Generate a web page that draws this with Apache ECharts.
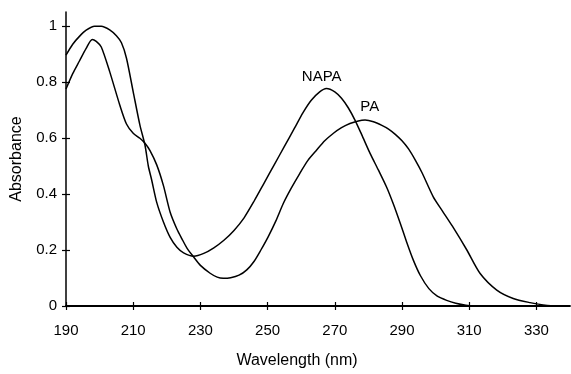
<!DOCTYPE html>
<html>
<head>
<meta charset="utf-8">
<script src="https://cdn.jsdelivr.net/npm/echarts@6/dist/echarts.min.js"></script>
<style>
html,body{margin:0;padding:0;background:#fff;}
#chart{width:571px;height:374px;}
</style>
</head>
<body>
<div id="chart"></div>
<script>
// Tick labels
var xTicks = [190, 210, 230, 250, 270, 290, 310, 330];
var yTicks = [0, 0.2, 0.4, 0.6, 0.8, 1];

// NAPA spectrum
var napaWavelength = [190, 192, 194, 196, 198.5, 200.5, 203, 205, 206.5, 208, 210, 212, 213.5, 214.5, 215.5, 217, 219, 221, 223, 225, 228, 231, 234, 237, 240, 243, 246, 249, 252, 255, 258, 260.5, 263, 265.5, 267.5, 270, 272, 274, 276, 278, 280.5, 283, 285.4, 287.4, 289.4, 291.4, 293.4, 295.5, 298, 300.5, 303.3, 306, 309, 312, 340];
var napaAbsorbance = [0.896, 0.935, 0.963, 0.985, 0.999, 0.999, 0.986, 0.965, 0.94, 0.885, 0.765, 0.646, 0.575, 0.50, 0.45, 0.37, 0.30, 0.245, 0.21, 0.19, 0.178, 0.188, 0.208, 0.235, 0.27, 0.315, 0.375, 0.44, 0.505, 0.57, 0.635, 0.69, 0.735, 0.765, 0.777, 0.765, 0.742, 0.708, 0.664, 0.612, 0.545, 0.485, 0.425, 0.365, 0.298, 0.228, 0.163, 0.108, 0.062, 0.035, 0.02, 0.01, 0.003, 0, 0];

// PA spectrum
var paWavelength = [190, 192, 194, 196, 197.8, 199, 200.5, 203, 206, 208, 210, 212, 213.5, 215, 217, 219, 221, 223, 224.5, 226, 228, 230, 232.9, 235, 236.8, 239, 241.5, 243.8, 246, 248, 250.2, 252.5, 254.7, 257, 259.6, 262, 264.6, 267, 269.6, 272, 274.5, 277, 279, 281.5, 284, 286, 288, 290, 292, 294, 296, 299.3, 302, 305, 309.3, 313.2, 318.2, 323.1, 328.1, 332, 336, 340];
var paAbsorbance = [0.775, 0.83, 0.875, 0.92, 0.952, 0.945, 0.925, 0.837, 0.718, 0.65, 0.617, 0.599, 0.581, 0.555, 0.504, 0.43, 0.335, 0.275, 0.24, 0.207, 0.175, 0.145, 0.117, 0.103, 0.099, 0.101, 0.11, 0.129, 0.16, 0.2, 0.248, 0.305, 0.367, 0.42, 0.474, 0.52, 0.557, 0.59, 0.617, 0.637, 0.652, 0.661, 0.664, 0.658, 0.645, 0.632, 0.613, 0.59, 0.56, 0.52, 0.475, 0.39, 0.34, 0.285, 0.2, 0.117, 0.057, 0.027, 0.012, 0.004, 0, 0];

// Curve labels
var seriesNames = ['NAPA', 'PA'];
var labelCoords = [[266.1, 0.819], [280.4, 0.712]];

function pairs(xs, ys) {
  return xs.map(function (x, i) { return [x, ys[i]]; });
}

var FONT = 'Liberation Sans, Arial, sans-serif';
var chart = echarts.init(document.getElementById('chart'), null, {renderer: 'canvas'});

function baseX(inside) {
  return {
    type: 'value', min: 190, max: 340, position: 'bottom',
    axisLine: {show: !inside, lineStyle: {color: '#000', width: 1.8}},
    axisTick: {show: true, inside: inside, length: 4, customValues: xTicks, lineStyle: {color: '#000', width: 1.2}},
    axisLabel: {show: !inside, customValues: xTicks, color: '#000', fontSize: 15, fontFamily: FONT, margin: 17},
    splitLine: {show: false}
  };
}
function baseY(inside) {
  return {
    type: 'value', min: 0, max: 1.05, position: 'left',
    axisLine: {show: !inside, lineStyle: {color: '#000', width: 1.5}},
    axisTick: {show: true, inside: inside, length: 4, customValues: yTicks, lineStyle: {color: '#000', width: 1.2}},
    axisLabel: {show: !inside, customValues: yTicks, color: '#000', fontSize: 15, fontFamily: FONT, margin: 9},
    splitLine: {show: false}
  };
}

var x0 = baseX(false);
x0.name = 'Wavelength (nm)';
x0.nameLocation = 'middle';
x0.nameGap = 47;
x0.nameTextStyle = {color: '#000', fontSize: 16, fontFamily: FONT, padding: [0, 42, 0, 0]};
var y0 = baseY(false);
y0.name = 'Absorbance';
y0.nameLocation = 'middle';
y0.nameGap = 41;
y0.nameTextStyle = {color: '#000', fontSize: 16, fontFamily: FONT};

function makeSeries(name, xs, ys, coord) {
  return {
    name: name, type: 'line', xAxisIndex: 0, yAxisIndex: 0,
    data: pairs(xs, ys), smooth: 0.25, symbol: 'none',
    lineStyle: {color: '#000', width: 1.5},
    markPoint: {
      symbol: 'circle', symbolSize: 0, silent: true,
      label: {show: true, position: 'inside', formatter: name, color: '#000', fontSize: 15, fontFamily: FONT},
      data: [{coord: coord}]
    }
  };
}

chart.setOption({
  animation: false,
  backgroundColor: '#fff',
  grid: {left: 66, right: 1, top: 12, bottom: 68, containLabel: false},
  xAxis: [x0, baseX(true)],
  yAxis: [y0, baseY(true)],
  series: [
    makeSeries(seriesNames[0], napaWavelength, napaAbsorbance, labelCoords[0]),
    makeSeries(seriesNames[1], paWavelength, paAbsorbance, labelCoords[1])
  ]
});
</script>
</body>
</html>
